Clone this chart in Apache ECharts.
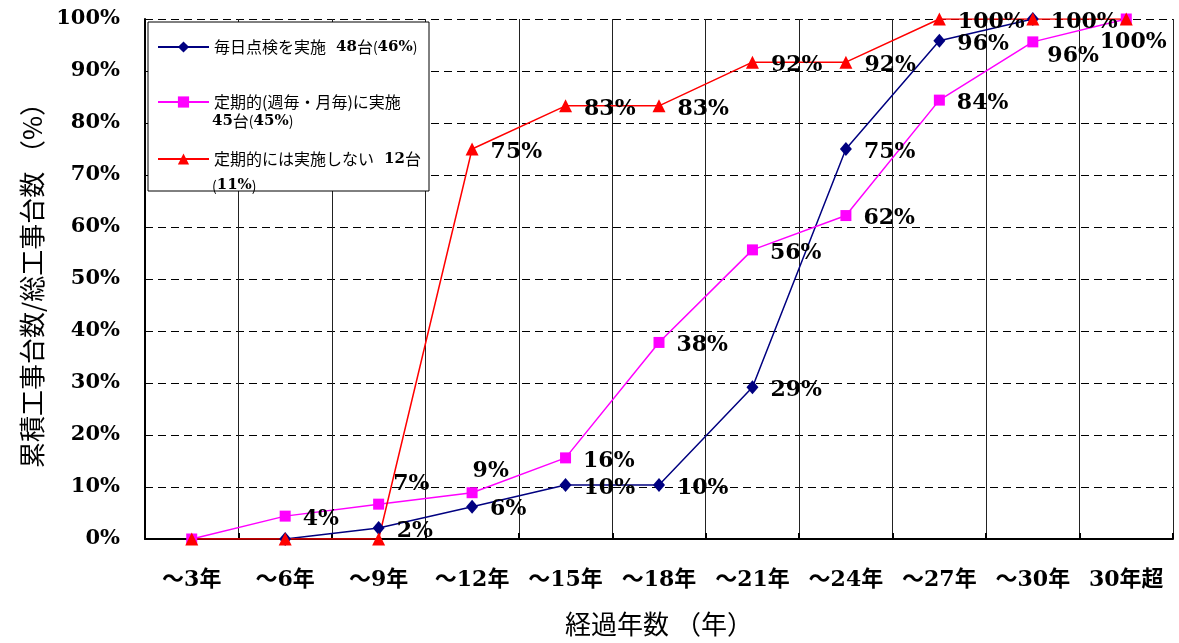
<!DOCTYPE html>
<html>
<head>
<meta charset="utf-8">
<script src="https://cdn.jsdelivr.net/npm/echarts@6/dist/echarts.min.js"></script>
<style>
  html, body { margin: 0; padding: 0; background: #fff; }
  #chart { width: 1179px; height: 643px; }
</style>
</head>
<body>
<div id="chart"></div>
<script>
// categories (elapsed years) and cumulative share (%)
const categories = ['～3年', '～6年', '～9年', '～12年', '～15年', '～18年', '～21年', '～24年', '～27年', '～30年', '30年超'];
const dailyCheck = [null, 0, 2.1, 6.2, 10.4, 10.4, 29.2, 75, 95.8, 100, null];
const periodicCheck = [0, 4.4, 6.7, 8.9, 15.6, 37.8, 55.6, 62.2, 84.4, 95.6, 100];
const noCheck = [0, 0, 0, 75, 83.3, 83.3, 91.7, 91.7, 100, 100, 100];
const seriesNames = ['毎日点検を実施', '定期的(週毎・月毎)に実施', '定期的には実施しない'];

const serif = "'DejaVu Serif', 'Noto Sans CJK JP', serif";
const sans = "'Noto Sans CJK JP', sans-serif";

// which labels to hide / nudge (Excel labels were moved by hand)
const hideLabels = [[1], [0], [0, 1, 2, 9, 10]];
const labelOffsets = [
  {},
  { 2: [-3, -20], 3: [-17, -21], 9: [-3, 14], 10: [-44, 23] },
  {}
];

function buildData(values, s) {
  return values.map(function (v, i) {
    let item = { value: v };
    if (hideLabels[s].indexOf(i) >= 0) {
      item.label = { show: false };
    } else if (labelOffsets[s][i]) {
      item.label = { offset: labelOffsets[s][i] };
    }
    return item;
  });
}

const baseLabel = {
  show: true,
  position: 'right',
  distance: 12,
  offset: [0, 3],
  fontSize: 22,
  fontWeight: 'bold',
  fontFamily: serif,
  color: '#000',
  formatter: function (p) { return Math.round(p.value) + '%'; }
};

const legendRich = {
  j: { fontFamily: sans, fontSize: 16, color: '#000', lineHeight: 24 },
  n: { fontFamily: serif, fontSize: 15, fontWeight: 'bold', color: '#000', lineHeight: 24 },
  p: { fontFamily: sans, fontSize: 14, color: '#000', lineHeight: 24 }
};

const legendText = [
  '{j|毎日点検を実施}   {n|48}{j|台}{p|(}{n|46%}{p|)}',
  '{j|定期的(週毎・月毎)に実施}',
  '{j|定期的には実施しない}   {n|12}{j|台}'
];
const legendTops = [34, 89, 146];

function makeLegend(i) {
  return {
    orient: 'vertical',
    left: 152,
    top: legendTops[i],
    itemWidth: 51,
    itemHeight: 14,
    z: 6,
    data: [seriesNames[i]],
    formatter: function () { return legendText[i]; },
    textStyle: { rich: legendRich }
  };
}

var chartDom = document.getElementById('chart');
var myChart = echarts.init(chartDom);
var option;

option = {
  animation: false,
  backgroundColor: '#fff',
  grid: { left: 145, right: 6, top: 19, bottom: 104 },
  legend: [makeLegend(0), makeLegend(1), makeLegend(2)],
  graphic: [
    {
      type: 'rect', z: 3,
      shape: { x: 148, y: 22, width: 281, height: 169 },
      style: { fill: '#fff', stroke: '#000', lineWidth: 1 }
    },
    {
      type: 'text', z: 6, left: 212, top: 113,
      style: { text: '{n|45}{j|台}{p|(}{n|45%}{p|)}', rich: legendRich }
    },
    {
      type: 'text', z: 6, left: 212, top: 178,
      style: { text: '{p|(}{n|11%}{p|)}', rich: legendRich }
    }
  ],
  xAxis: {
    type: 'category',
    data: categories,
    boundaryGap: true,
    name: '経過年数 （年）',
    nameLocation: 'middle',
    nameGap: 72,
    nameTextStyle: { fontFamily: sans, fontSize: 26, color: '#000' },
    axisLine: { lineStyle: { color: '#000', width: 2 } },
    axisTick: { show: true, inside: true, interval: 0, length: 6, lineStyle: { color: '#000', width: 2 } },
    axisLabel: { interval: 0, fontFamily: serif, fontSize: 22, fontWeight: 'bold', color: '#000', margin: 30 },
    splitLine: { show: true, interval: 0, lineStyle: { color: '#222', width: 1 } }
  },
  yAxis: {
    type: 'value',
    min: 0,
    max: 100,
    interval: 10,
    name: '累積工事台数/総工事台数 （%）',
    nameLocation: 'middle',
    nameGap: 99,
    nameTextStyle: { fontFamily: sans, fontSize: 26, color: '#000' },
    axisLine: { show: true, lineStyle: { color: '#000', width: 2 } },
    axisTick: { show: true, inside: true, length: 5, lineStyle: { color: '#000' } },
    axisLabel: { formatter: '{value}%', fontFamily: serif, fontSize: 21, fontWeight: 'bold', color: '#000', margin: 25 },
    splitLine: { show: true, lineStyle: { color: '#000', width: 1, type: [8, 5] } }
  },
  series: [
    {
      name: seriesNames[0],
      type: 'line',
      data: buildData(dailyCheck, 0),
      symbol: 'diamond',
      symbolSize: [12, 14],
      color: '#000080',
      lineStyle: { width: 1.5 },
      label: baseLabel
    },
    {
      name: seriesNames[1],
      type: 'line',
      data: buildData(periodicCheck, 1),
      symbol: 'rect',
      symbolSize: 11,
      color: '#ff00ff',
      lineStyle: { width: 1.5 },
      label: baseLabel
    },
    {
      name: seriesNames[2],
      type: 'line',
      data: buildData(noCheck, 2),
      symbol: 'triangle',
      symbolSize: 13,
      color: '#ff0000',
      lineStyle: { width: 1.5 },
      label: baseLabel
    }
  ]
};

option && myChart.setOption(option);
</script>
</body>
</html>
